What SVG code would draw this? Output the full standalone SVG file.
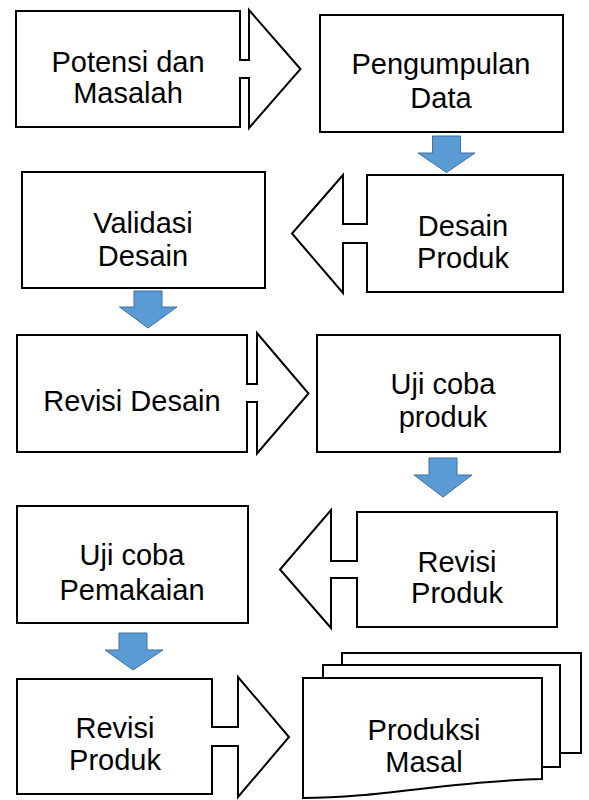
<svg xmlns="http://www.w3.org/2000/svg" width="589" height="800" viewBox="0 0 589 800">
<style>
.s{fill:#fff;stroke:#000;stroke-width:2;stroke-linejoin:miter}
.b{fill:#5B9BD5;stroke:#41719C;stroke-width:1}
.t{font-family:"Liberation Sans",Arial,sans-serif;font-size:29px;fill:#000;text-anchor:middle}
</style>
<rect width="589" height="800" fill="#fff"/>
<g id="n1">
<path class="s" d="M16,11 H240 V60 H249 V10 L300.5,69 L249,128 V78 H240 V127 H16 Z"/>
<text class="t" x="128" y="72">Potensi dan</text>
<text class="t" x="128" y="103">Masalah</text>
</g>
<g id="n2">
<rect class="s" x="320" y="15" width="243" height="117"/>
<text class="t" x="441" y="74">Pengumpulan</text>
<text class="t" x="441" y="108">Data</text>
</g>
<g id="n3">
<rect class="s" x="22" y="172" width="243" height="116"/>
<text class="t" x="143" y="233">Validasi</text>
<text class="t" x="143" y="266">Desain</text>
</g>
<g id="n4">
<path class="s" d="M367,175 H563 V292 H367 V243 H343 V293 L292,233.5 L343,175 V224 H367 Z"/>
<text class="t" x="463" y="236">Desain</text>
<text class="t" x="463" y="268">Produk</text>
</g>
<g id="n5">
<path class="s" d="M17,335 H247 V384 H257 V333 L308.5,393.5 L257,453.5 V402 H247 V452 H17 Z"/>
<text class="t" x="132" y="411">Revisi Desain</text>
</g>
<g id="n6">
<rect class="s" x="317" y="335" width="243" height="117"/>
<text class="t" x="443" y="394">Uji coba</text>
<text class="t" x="443" y="427">produk</text>
</g>
<g id="n7">
<rect class="s" x="17" y="506" width="231" height="117"/>
<text class="t" x="132" y="565">Uji coba</text>
<text class="t" x="132" y="600">Pemakaian</text>
</g>
<g id="n8">
<path class="s" d="M357,512 H557 V627 H357 V578 H331 V628 L280,569.5 L331,510 V561 H357 Z"/>
<text class="t" x="457" y="572">Revisi</text>
<text class="t" x="457" y="603">Produk</text>
</g>
<g id="n9">
<path class="s" d="M17,679 H212 V727 H238 V677 L289,737 L238,797 V746 H212 V794 H17 Z"/>
<text class="t" x="115" y="738">Revisi</text>
<text class="t" x="115" y="770">Produk</text>
</g>
<g id="n10">
<rect class="s" x="342" y="653" width="239" height="100"/>
<rect class="s" x="323" y="665" width="237" height="102"/>
<path class="s" d="M303,678 H542 V779 C450,781 380,798 303,798 Z"/>
<text class="t" x="424" y="740">Produksi</text>
<text class="t" x="424" y="772">Masal</text>
</g>
<g id="connectors">
<path class="b" d="M432.5,136 H460.5 V153 H475 L446.5,172.5 L418,153 H432.5 Z"/>
<path class="b" d="M134,291 H162 V307 H177 L148,328 L119.5,307 H134 Z"/>
<path class="b" d="M429,458 H457 V475 H472 L443,497 L414,475 H429 Z"/>
<path class="b" d="M119,633 H147 V650 H163 L133,670 L105,650 H119 Z"/>
</g>
</svg>
